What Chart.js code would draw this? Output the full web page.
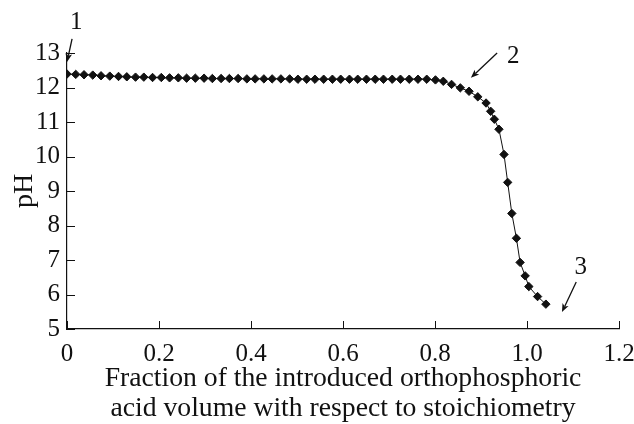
<!DOCTYPE html>
<html>
<head>
<meta charset="utf-8">
<script src="https://cdn.jsdelivr.net/npm/chart.js@4.4.1/dist/chart.umd.min.js"></script>
<style>
  html, body { margin:0; padding:0; background:#fff; }
  #wrap { width:634px; height:424px; }
</style>
</head>
<body>
<div id="wrap"><canvas id="chart" width="634" height="424"></canvas></div>
<script>
// fraction of H3PO4 volume vs stoichiometry, and measured pH
const fraction = [
  0, 0.019, 0.037, 0.056, 0.074, 0.093, 0.112, 0.130, 0.149, 0.167,
  0.186, 0.205, 0.223, 0.242, 0.260, 0.279, 0.298, 0.316, 0.335, 0.353,
  0.372, 0.391, 0.409, 0.428, 0.446, 0.465, 0.484, 0.502, 0.521, 0.539,
  0.558, 0.577, 0.595, 0.614, 0.632, 0.651, 0.670, 0.688, 0.707, 0.725,
  0.744, 0.763, 0.782, 0.801, 0.818, 0.836, 0.855, 0.874, 0.893, 0.911,
  0.921, 0.929, 0.939, 0.950, 0.958, 0.967, 0.977, 0.985, 0.996, 1.004,
  1.023, 1.041
];
const pH = [
  12.39, 12.38, 12.37, 12.36, 12.34, 12.33, 12.32, 12.31, 12.30, 12.30,
  12.29, 12.29, 12.28, 12.28, 12.27, 12.27, 12.27, 12.26, 12.26, 12.26,
  12.26, 12.25, 12.25, 12.25, 12.25, 12.25, 12.25, 12.24, 12.24, 12.24,
  12.24, 12.24, 12.24, 12.24, 12.24, 12.24, 12.24, 12.24, 12.24, 12.24,
  12.24, 12.24, 12.24, 12.22, 12.18, 12.09, 11.99, 11.89, 11.73, 11.55,
  11.31, 11.08, 10.79, 10.06, 9.25, 8.35, 7.63, 6.93, 6.54, 6.23,
  5.94, 5.72
];
const xTickLabels = ['0', '0.2', '0.4', '0.6', '0.8', '1.0', '1.2'];
const yTickLabels = ['5', '6', '7', '8', '9', '10', '11', '12', '13'];

// arrow callouts: [label, textX, textY, fromX, fromY, toX, toY] in data units
const callouts = [
  ['1', 0.020, 13.88, 0.011, 13.41, 0.000, 12.74],
  ['2', 0.970, 12.91, 0.935, 13.00, 0.878, 12.28],
  ['3', 1.117, 6.77, 1.107, 6.36, 1.076, 5.49]
];

const SERIF = '"Liberation Serif", "DejaVu Serif", serif';

function drawArrow(ctx, x1, y1, x2, y2){
  const a = Math.atan2(y2 - y1, x2 - x1);
  const head = 9, wing = 0.38;
  ctx.beginPath();
  ctx.moveTo(x1, y1);
  ctx.lineTo(x2 - Math.cos(a) * head * 0.7, y2 - Math.sin(a) * head * 0.7);
  ctx.stroke();
  ctx.beginPath();
  ctx.moveTo(x2, y2);
  ctx.lineTo(x2 - head * Math.cos(a - wing), y2 - head * Math.sin(a - wing));
  ctx.lineTo(x2 - head * 0.7 * Math.cos(a), y2 - head * 0.7 * Math.sin(a));
  ctx.lineTo(x2 - head * Math.cos(a + wing), y2 - head * Math.sin(a + wing));
  ctx.closePath();
  ctx.fill();
}

// inward tick marks + numbered arrows
const extras = {
  id: 'extras',
  afterDraw(chart){
    const { ctx, scales: { x, y } } = chart;
    ctx.save();
    ctx.strokeStyle = '#111';
    ctx.fillStyle = '#111';
    ctx.lineWidth = 1;
    ctx.beginPath();
    y.ticks.forEach(t => {
      const py = Math.round(y.getPixelForValue(t.value)) + 0.5;
      ctx.moveTo(x.left, py); ctx.lineTo(x.left + 8, py);
    });
    x.ticks.forEach(t => {
      const px = Math.round(x.getPixelForValue(t.value)) + 0.5;
      ctx.moveTo(px, y.bottom); ctx.lineTo(px, y.bottom - 8);
    });
    ctx.stroke();

    ctx.lineWidth = 1.3;
    ctx.font = '25px ' + SERIF;
    ctx.textAlign = 'center';
    ctx.textBaseline = 'middle';
    callouts.forEach(([lab, tx, ty, fx, fy, ex, ey]) => {
      drawArrow(ctx, x.getPixelForValue(fx), y.getPixelForValue(fy),
                     x.getPixelForValue(ex), y.getPixelForValue(ey));
      ctx.fillText(lab, x.getPixelForValue(tx), y.getPixelForValue(ty));
    });
    ctx.restore();
  }
};

const points = fraction.map((v, i) => ({ x: v, y: pH[i] }));

new Chart(document.getElementById('chart'), {
  type: 'line',
  data: {
    datasets: [{
      data: points,
      borderColor: '#111',
      backgroundColor: '#111',
      borderWidth: 1,
      pointStyle: 'rectRot',
      pointRadius: 4.2,
      pointHoverRadius: 4.2,
      tension: 0
    }]
  },
  options: {
    responsive: false,
    animation: false,
    events: [],
    layout: { padding: { left: 0, right: 15, top: 53, bottom: 0 } },
    plugins: { legend: { display: false }, tooltip: { enabled: false } },
    scales: {
      x: {
        type: 'linear',
        min: 0, max: 1.2,
        afterFit(s){ s.height = 95; s.paddingLeft = 0; s.paddingRight = 0; },
        ticks: {
          stepSize: 0.2,
          color: '#111',
          padding: 10,
          font: { family: SERIF, size: 25 },
          maxRotation: 0,
          callback: (v, i) => xTickLabels[i]
        },
        grid: { display: false, drawTicks: false },
        border: { display: true, color: '#111', width: 1.2 },
        title: {
          display: true,
          text: ['Fraction of the introduced orthophosphoric', 'acid volume with respect to stoichiometry'],
          color: '#111',
          font: { family: SERIF, size: 27.7, lineHeight: 1.09 },
          padding: { top: 0, bottom: 0 }
        }
      },
      y: {
        type: 'linear',
        min: 5, max: 13,
        afterFit(s){ s.width = 67; s.paddingTop = 0; s.paddingBottom = 0; },
        ticks: {
          stepSize: 1,
          color: '#111',
          padding: 7,
          font: { family: SERIF, size: 25 },
          callback: (v, i) => yTickLabels[i]
        },
        grid: { display: false, drawTicks: false },
        border: { display: true, color: '#111', width: 1.2 },
        title: {
          display: true,
          text: 'pH',
          color: '#111',
          font: { family: SERIF, size: 28 },
          padding: { top: 8, bottom: 2 }
        }
      }
    }
  },
  plugins: [extras]
});
</script>
</body>
</html>
